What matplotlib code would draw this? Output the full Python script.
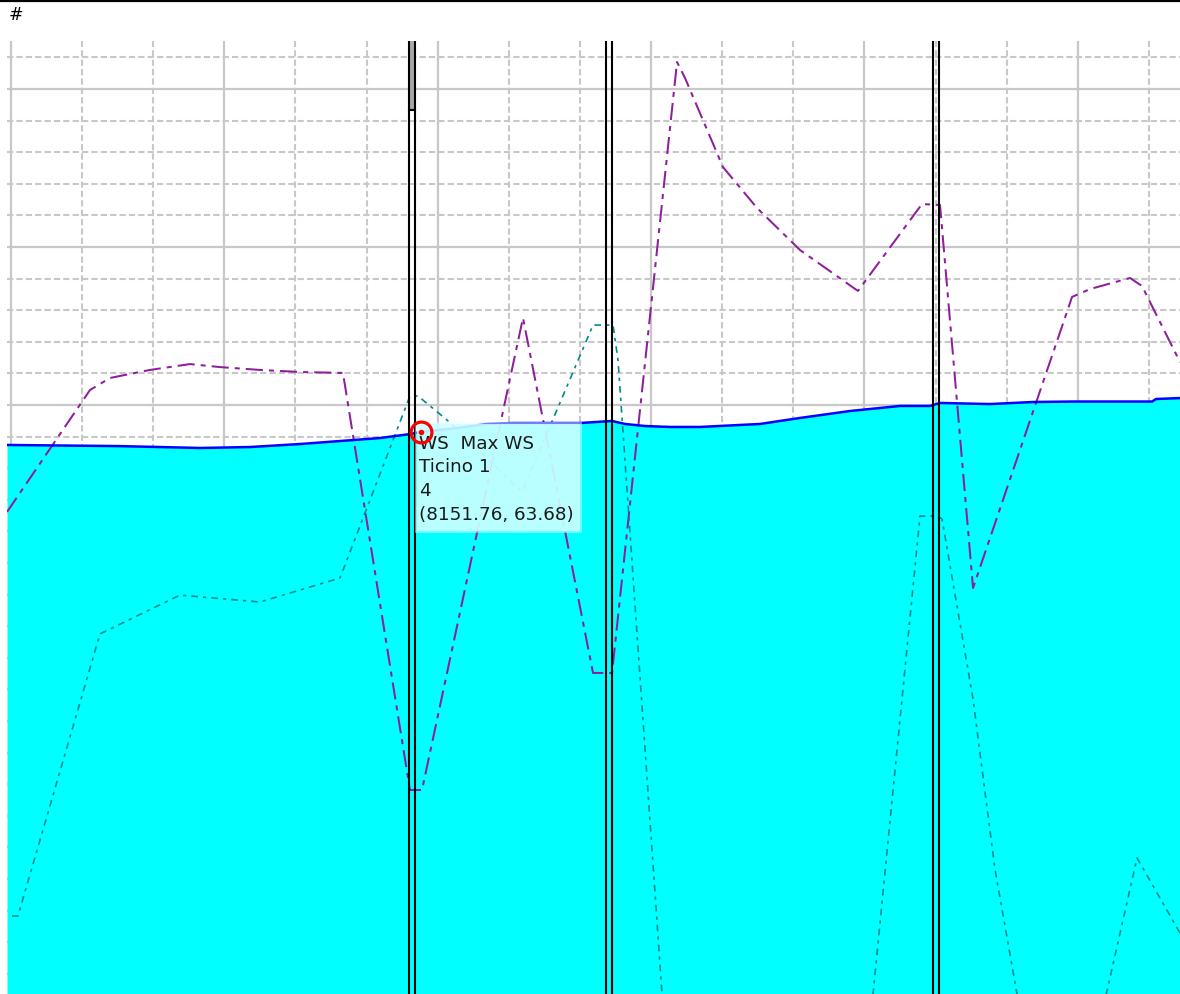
import matplotlib
matplotlib.use("Agg")
import matplotlib.pyplot as plt
from matplotlib.ticker import MultipleLocator
from matplotlib.patches import Rectangle
from matplotlib.lines import Line2D

# ---------------- data (main channel distance, elevation) ----------------
ws_x = [7569.4, 7725.5, 7784.5, 7840.8, 7911.1, 7981.4, 8037.6, 8093.9, 8136.0,
        8151.76, 8202.1, 8244.3, 8279.5, 8375.1, 8420.1, 8438.3, 8466.5, 8501.6,
        8543.8, 8628.2, 8684.4, 8754.7, 8825.0, 8867.2, 8881.3, 8951.6, 9012.0,
        9068.3, 9179.4, 9185.0, 9218.7]
ws_y = [63.597, 63.590, 63.584, 63.578, 63.584, 63.603, 63.622, 63.641, 63.666,
        63.68, 63.704, 63.730, 63.736, 63.736, 63.749, 63.730, 63.717, 63.711,
        63.711, 63.730, 63.768, 63.812, 63.844, 63.844, 63.863, 63.856, 63.869,
        63.872, 63.872, 63.888, 63.894]

purple_x = [7569.4, 7686.1, 7714.2, 7770.4, 7826.7, 7868.9, 7925.1, 7981.4, 8041.8,
            8136.0, 8152.9, 8294.9, 8393.4, 8420.1, 8511.5, 8522.7, 8576.1, 8624.0,
            8684.4, 8765.9, 8855.9, 8881.3, 8927.7, 9066.9, 9092.2, 9148.4, 9165.3,
            9176.5, 9218.7]
purple_y = [63.173, 63.945, 64.021, 64.072, 64.109, 64.090, 64.072, 64.059, 64.053,
            61.413, 61.413, 64.401, 62.154, 62.154, 66.021, 65.920, 65.356, 65.097,
            64.831, 64.572, 65.122, 65.116, 62.692, 64.534, 64.584, 64.654, 64.603,
            64.502, 64.122]

teal_x = [7576.4, 7584.8, 7700.1, 7812.6, 7925.1, 8037.6, 8136.0, 8147.3, 8188.1,
          8293.5, 8393.4, 8421.5, 8428.5, 8490.4, 8543.8, 8740.7, 8787.1, 8853.1,
          8878.0, 8884.1, 8927.7, 8958.6, 8989.5, 9065.5, 9158.3, 9218.7]
teal_y = [60.616, 60.616, 62.401, 62.647, 62.603, 62.755, 63.907, 63.907, 63.755,
          63.299, 64.356, 64.356, 64.135, 60.122, 58.82, 58.82, 60.122, 63.147,
          63.147, 63.128, 61.989, 60.910, 60.122, 59.135, 60.983, 60.508]

# structures (pairs of vertical lines)
struct_x = [(8135.3, 8143.1), (8412.3, 8420.1), (8871.4, 8879.2)]
deck_bottom = 65.717

tip_point = (8151.76, 63.68)
tip_lines = ["WS  Max WS", "Ticino 1", "4", "(8151.76, 63.68)"]

# ---------------- figure ----------------
W, H = 1180, 994
fig = plt.figure(figsize=(W / 100, H / 100), dpi=100)
fig.patch.set_facecolor("white")
ax = fig.add_axes([7 / W, 0, 1173 / W, 953 / H])
ax.set_xlim(7569.4, 9218.7)
ax.set_ylim(60.122, 66.154)

ax.xaxis.set_major_locator(MultipleLocator(300, offset=75))
ax.xaxis.set_minor_locator(MultipleLocator(100, offset=75))
ax.yaxis.set_major_locator(MultipleLocator(1.0, offset=0.85))
ax.yaxis.set_minor_locator(MultipleLocator(0.2, offset=0.05))
ax.set_axisbelow(True)
ax.grid(which="minor", color="#C8C8C8", lw=1.5, linestyle=(0, (3, 1.5)))
ax.grid(which="major", color="#C8C8C8", lw=1.6, linestyle="-")
ax.tick_params(which="both", length=0, labelbottom=False, labelleft=False)
for s in ax.spines.values():
    s.set_visible(False)

# water
ax.fill_between(ws_x, ws_y, 60.0, color="#00FFFF", lw=0, zorder=1)
ax.plot(ws_x, ws_y, color="#0000FF", lw=1.8, zorder=4)

# other profiles
ax.plot(purple_x, purple_y, color="#8E1E9B", lw=1.45,
        linestyle=(0, (8.5, 3, 2.5, 3)), zorder=3)
ax.plot(teal_x, teal_y, color="#008B8B", lw=1.2,
        linestyle=(0, (4, 3, 2, 3)), zorder=3)

# structures
for xa, xb in struct_x:
    ax.axvline(xa, color="black", lw=1.5, zorder=5)
    ax.axvline(xb, color="black", lw=1.5, zorder=5)
xa, xb = struct_x[0]
ax.fill_between([xa, xb], deck_bottom, 67, color="#A8A8A8", lw=0, zorder=4.5)
ax.plot([xa, xb], [deck_bottom, deck_bottom], color="black", lw=1.5, zorder=5)

# tooltip box (drawn inside the axes so the marker can sit on top)
bx0, by0, bw, bh = 417, 424, 163, 107
ax.add_patch(Rectangle(((bx0 - 2) / W, 1 - (by0 + bh + 2) / H), (bw + 4) / W,
                       (bh + 4) / H, transform=fig.transFigure, clip_on=False,
                       facecolor="#DFFFFF", alpha=0.5, lw=0, zorder=10))
ax.add_patch(Rectangle((bx0 / W, 1 - (by0 + bh) / H), bw / W, bh / H,
                       transform=fig.transFigure, clip_on=False,
                       facecolor="#CCFFFF", alpha=0.82, lw=0, zorder=11))
for i, t in enumerate(tip_lines):
    ax.text(419 / W, 1 - (444 + 23.5 * i) / H, t, fontsize=13.2,
            family="DejaVu Sans", color="#1A1A1A", va="center", ha="left",
            transform=fig.transFigure, zorder=12)

# marker
ax.plot([tip_point[0]], [tip_point[1]], marker="o", ms=15, mfc="none",
        mec="#FF0000", mew=2.3, zorder=20, clip_on=False)
ax.plot([tip_point[0]], [tip_point[1]], marker="o", ms=3, mfc="#FF0000",
        mec="#FF0000", zorder=20)

# header
fig.text(9 / W, 1 - 15 / H, "#", fontsize=12.5, color="black", va="center",
         ha="left")
fig.add_artist(Line2D([0, 1], [1 - 1 / H, 1 - 1 / H], transform=fig.transFigure,
                      color="black", lw=1.6))

fig.savefig("out.png", dpi=100)
